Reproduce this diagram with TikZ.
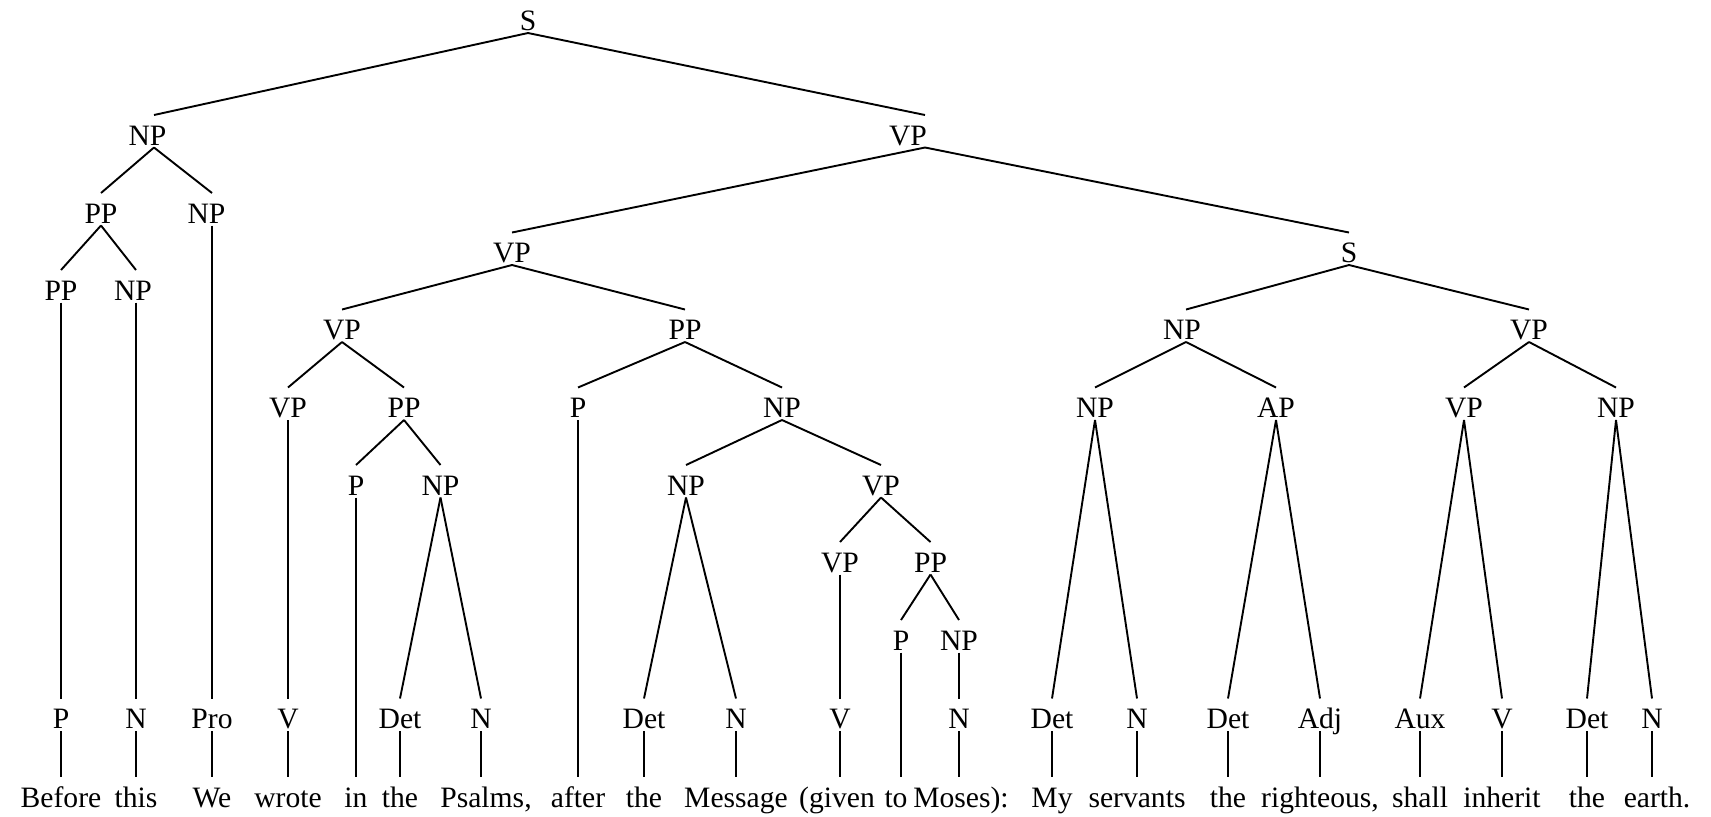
\documentclass[tikz,border=0pt]{standalone}
\usepackage{fontspec}
\setmainfont{Liberation Serif}
\newcommand{\tsh}[2]{\makebox[0pt]{\hspace{#1}#2}}
\begin{document}
\begin{tikzpicture}[x=0.5pt,y=-0.5pt,
  lab/.style={inner sep=0pt, outer sep=0pt, text height=15pt, text depth=1.25pt,
    anchor=base, font=\fontsize{14.8}{18}\selectfont},
  edge/.style={line width=0.95pt, black}]
\fill[white] (0,0) rectangle (1711,816);
\useasboundingbox (0,0) rectangle (1711,816);
% phrase nodes
\node[lab] (s0) at (528,30.5) {S};
\node[lab] (np1) at (154,145) {\tsh{-6.5pt}{NP}};
\node[lab] (vp1) at (925,145) {\tsh{-17pt}{VP}};
\node[lab] (ppa) at (101,223) {PP};
\node[lab] (npa) at (212,223) {\tsh{-5.5pt}{NP}};
\node[lab] (vp2) at (512,262.5) {VP};
\node[lab] (s2) at (1349,262.5) {S};
\node[lab] (ppb) at (61,300) {PP};
\node[lab] (npb) at (136,300) {\tsh{-3pt}{NP}};
\node[lab] (vp3) at (342,339.5) {VP};
\node[lab] (pp3) at (685,339.5) {PP};
\node[lab] (nps) at (1186,339.5) {\tsh{-4pt}{NP}};
\node[lab] (vps) at (1529,339.5) {VP};
\node[lab] (vp4) at (288,417.5) {VP};
\node[lab] (pp4) at (404,417.5) {PP};
\node[lab] (pafter) at (578,417.5) {P};
\node[lab] (np5) at (782,417.5) {NP};
\node[lab] (npmy) at (1095,417.5) {NP};
\node[lab] (ap) at (1276,417.5) {AP};
\node[lab] (vpshall) at (1464,417.5) {VP};
\node[lab] (npearth) at (1616,417.5) {NP};
\node[lab] (pin) at (356,495) {P};
\node[lab] (npps) at (440.5,495) {NP};
\node[lab] (npmsg) at (686,495) {NP};
\node[lab] (vpgiven) at (881,495) {VP};
\node[lab] (vpv) at (840,572) {VP};
\node[lab] (ppto) at (930.5,572) {PP};
\node[lab] (pto) at (901,650) {P};
\node[lab] (npmoses) at (959,650) {NP};
% preterminals
\node[lab] (t1) at (61,728.5) {P};
\node[lab] (t2) at (136,728.5) {N};
\node[lab] (t3) at (212,728.5) {Pro};
\node[lab] (t4) at (288,728.5) {V};
\node[lab] (t6) at (400,728.5) {Det};
\node[lab] (t7) at (481,728.5) {N};
\node[lab] (t9) at (644,728.5) {Det};
\node[lab] (t10) at (736,728.5) {N};
\node[lab] (t11) at (840,728.5) {V};
\node[lab] (t13) at (959,728.5) {N};
\node[lab] (t14) at (1052,728.5) {Det};
\node[lab] (t15) at (1137,728.5) {N};
\node[lab] (t16) at (1228,728.5) {Det};
\node[lab] (t17) at (1320,728.5) {Adj};
\node[lab] (t18) at (1420,728.5) {Aux};
\node[lab] (t19) at (1502,728.5) {V};
\node[lab] (t20) at (1587,728.5) {Det};
\node[lab] (t21) at (1652,728.5) {N};
% words
\node[lab] (w1) at (61,807) {Before};
\node[lab] (w2) at (136,807) {this};
\node[lab] (w3) at (212,807) {We};
\node[lab] (w4) at (288,807) {wrote};
\node[lab] (w5) at (356,807) {in};
\node[lab] (w6) at (400,807) {the};
\node[lab] (w7) at (481,807) {\tsh{5pt}{Psalms,}};
\node[lab] (w8) at (578,807) {after};
\node[lab] (w9) at (644,807) {the};
\node[lab] (w10) at (736,807) {Message};
\node[lab] (w11) at (840,807) {\tsh{-3pt}{(given}};
\node[lab] (w12) at (901,807) {\tsh{-5pt}{to}};
\node[lab] (w13) at (959,807) {\tsh{2pt}{Moses):}};
\node[lab] (w14) at (1052,807) {My};
\node[lab] (w15) at (1137,807) {servants};
\node[lab] (w16) at (1228,807) {the};
\node[lab] (w17) at (1320,807) {righteous,};
\node[lab] (w18) at (1420,807) {shall};
\node[lab] (w19) at (1502,807) {inherit};
\node[lab] (w20) at (1587,807) {the};
\node[lab] (w21) at (1652,807) {\tsh{5pt}{earth.}};
% edges
\foreach \a/\b in {s0/np1, s0/vp1, np1/ppa, np1/npa, ppa/ppb, ppa/npb,
  ppb/t1, npb/t2, npa/t3, vp1/vp2, vp1/s2, vp2/vp3, vp2/pp3,
  vp3/vp4, vp3/pp4, vp4/t4, pp4/pin, pp4/npps, pin/w5, npps/t6, npps/t7,
  pp3/pafter, pp3/np5, pafter/w8, np5/npmsg, np5/vpgiven, npmsg/t9, npmsg/t10,
  vpgiven/vpv, vpgiven/ppto, vpv/t11, ppto/pto, ppto/npmoses, pto/w12, npmoses/t13,
  s2/nps, s2/vps, nps/npmy, nps/ap, npmy/t14, npmy/t15, ap/t16, ap/t17,
  vps/vpshall, vps/npearth, vpshall/t18, vpshall/t19, npearth/t20, npearth/t21,
  t1/w1, t2/w2, t3/w3, t4/w4, t6/w6, t7/w7, t9/w9, t10/w10, t11/w11, t13/w13,
  t14/w14, t15/w15, t16/w16, t17/w17, t18/w18, t19/w19, t20/w20, t21/w21}
  \draw[edge] (\a.south) -- (\b.north);
\end{tikzpicture}
\end{document}
